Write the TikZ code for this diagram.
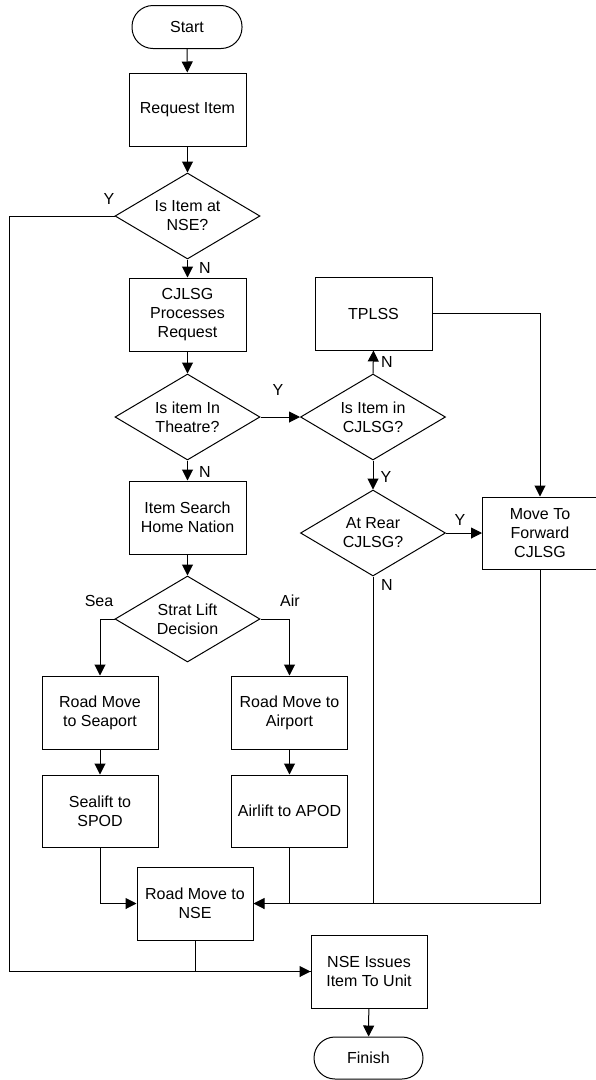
\documentclass[tikz,border=0pt]{standalone}
\usepackage{fontspec}
\setmainfont{Liberation Sans}
\usetikzlibrary{arrows.meta,shapes.geometric}
\begin{document}
\begin{tikzpicture}[x=1pt,y=-1pt,
  every node/.style={font=\fontsize{16}{19}\selectfont},
  box/.style={draw,line width=1pt,rectangle,minimum width=117pt,minimum height=73pt,inner sep=0pt,align=center},
  term/.style={draw,line width=1pt,rectangle,rounded corners=21pt,minimum width=110pt,minimum height=43pt,inner sep=0pt},
  dia/.style={draw,line width=1pt,diamond,minimum width=145pt,minimum height=86pt,inner sep=0pt},
  dtext/.style={align=center,inner sep=0pt},
  lbl/.style={inner sep=0pt},
  arr/.style={line width=1pt,-{Triangle[length=11pt,width=11pt]}},
  ln/.style={line width=1pt}
]
\useasboundingbox (0,0) rectangle (596,1080);

% nodes
\node[term] (start) at (187,27) {Start};
\node[box] (req) at (187.5,109.5) {Request Item};
\node[dia] (d1) at (187.5,216) {};
\node[dtext] (d1t) at (187.5,216) {Is Item at\\NSE?};
\node[box] (cp) at (187.5,314.5) {CJLSG\\Processes\\Request};
\node[dia] (d2) at (187.5,417) {};
\node[dtext] (d2t) at (187.5,417) {Is item In\\Theatre?};
\node[box] (tplss) at (373.5,313.5) {TPLSS};
\node[dia] (d3) at (373,417) {};
\node[dtext] (d3t) at (373,417) {Is Item in\\CJLSG?};
\node[dia] (d4) at (373,533) {};
\node[dtext] (d4t) at (373,533) {At Rear\\CJLSG?};
\node[box,minimum width=115pt,minimum height=72pt] (fwd) at (540,533) {Move To\\Forward\\CJLSG};
\node[box] (search) at (187.5,517.5) {Item Search\\Home Nation};
\node[dia] (d5) at (187.5,619) {};
\node[dtext] (d5t) at (187.5,619) {Strat Lift\\Decision};
\node[box,minimum width=116pt] (seaport) at (100,712.5) {Road Move\\to Seaport};
\node[box,minimum width=116pt] (airport) at (289.5,712.5) {Road Move to\\Airport};
\node[box,minimum width=116pt,minimum height=72pt] (sealift) at (100,811) {Sealift to\\SPOD};
\node[box,minimum width=116pt,minimum height=72pt] (airlift) at (289.5,811) {Airlift to APOD};
\node[box,minimum width=116pt] (nse) at (195,903.5) {Road Move to\\NSE};
\node[box,minimum width=116pt] (issue) at (369,971.5) {NSE Issues\\Item To Unit};
\node[term,minimum width=109pt,minimum height=42pt] (finish) at (368.5,1058) {Finish};

% labels
\node[lbl] (l1) at (109,199) {Y};
\node[lbl] (l2) at (205,268) {N};
\node[lbl] (l3) at (278,390) {Y};
\node[lbl] (l4) at (387,362) {N};
\node[lbl] (l5) at (386,477) {Y};
\node[lbl] (l6) at (205,472) {N};
\node[lbl] (l7) at (460,520) {Y};
\node[lbl] (l8) at (387,585) {N};
\node[lbl] (l9) at (99,601) {Sea};
\node[lbl] (l10) at (290,601) {Air};

\coordinate (lft) at (9.5,216);

% connectors
\draw[arr] (start) -- (req);
\draw[arr] (req) -- (d1.north);
\draw[arr] (d1.south) -- (cp);
\draw[arr] (cp) -- (d2.north);
\draw[arr] (d2.east) -- (d3.west);
\draw[arr] (d3.north) -- (tplss.south);
\draw[arr] (tplss.east) -| (fwd.north);
\draw[arr] (d3.south) -- (d4.north);
\draw[arr] (d4.east) -- (fwd.west);
\draw[arr] (d2.south) -- (search);
\draw[arr] (search) -- (d5.north);
\draw[arr] (d5.west) -| (seaport.north);
\draw[arr] (d5.east) -| (airport.north);
\draw[arr] (seaport) -- (sealift);
\draw[arr] (airport) -- (airlift);
\draw[arr] (sealift.south) |- (nse.west);
\draw[ln] (airlift.south) |- (nse.east);
\draw[ln] (d4.south) |- (nse.east);
\draw[arr] (fwd.south) |- (nse.east);
\draw[arr] (d1.west) -- (lft) |- (issue.west);
\draw[ln] (nse.south) |- (issue.west);
\draw[arr] (issue) -- (finish);
\end{tikzpicture}
\end{document}
